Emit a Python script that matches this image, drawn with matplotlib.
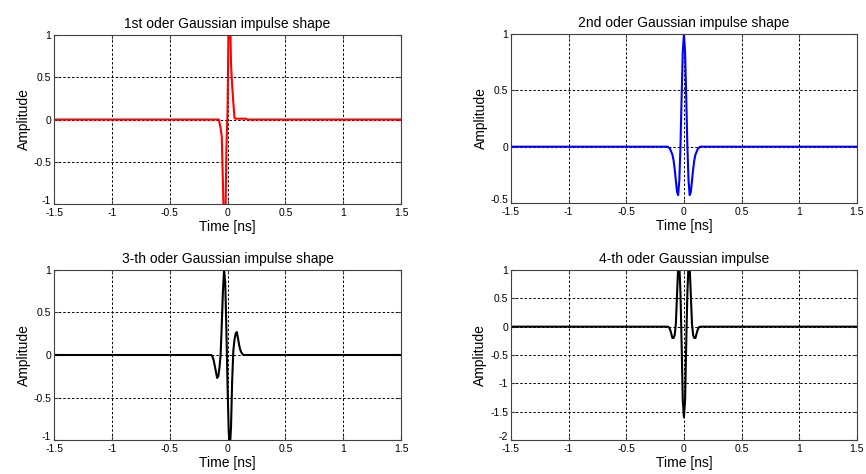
import numpy as np
import matplotlib
matplotlib.use("Agg")
import matplotlib.pyplot as plt
import matplotlib.transforms as mtransforms
from matplotlib.ticker import FormatStrFormatter

plt.rcParams['font.family'] = ['Liberation Sans', 'DejaVu Sans']

# 1st order pulse (values beyond +-1 are clipped by the axes)
t1 = [-1.5, -0.075, -0.06, -0.05, -0.04, -0.03, -0.02, -0.01, 0.0, 0.01, 0.02,
      0.03, 0.04, 0.05, 0.06, 0.07, 0.16, 0.17, 1.5]
y1 = [0, 0, -0.1, -0.2, -0.75, -1.3, -1.4, -0.35, 0.1, 1.3, 1.4,
      0.66, 0.4, 0.2, 0.02, 0.01, 0.01, 0, 0]

# 2nd order pulse
t2 = [-1.5, -0.14, -0.12, -0.1, -0.09, -0.08, -0.07, -0.06, -0.05, -0.04, -0.03,
      -0.02, -0.01, 0.0, 0.01, 0.02, 0.03, 0.04, 0.05, 0.06, 0.07, 0.08, 0.09,
      0.1, 0.12, 0.14, 1.5]
y2 = [0, 0, -0.02, -0.07, -0.12, -0.2, -0.3, -0.4, -0.43, -0.3, 0.0,
      0.44, 0.84, 1.0, 0.84, 0.44, 0.0, -0.3, -0.43, -0.4, -0.3, -0.2, -0.12,
      -0.07, -0.02, 0, 0]

# 3rd order pulse
t3 = [-1.5, -0.14, -0.13, -0.12, -0.11, -0.1, -0.09, -0.08, -0.07, -0.06, -0.05,
      -0.04, -0.03, -0.02, -0.01, 0.0, 0.01, 0.02, 0.03, 0.04, 0.05, 0.06, 0.07,
      0.08, 0.09, 0.1, 0.11, 0.12, 0.13, 0.14, 1.5]
y3 = [0, 0, -0.02, -0.06, -0.13, -0.2, -0.27, -0.25, -0.15, 0.0, 0.35,
      0.75, 1.0, 0.85, 0.3, -0.35, -0.9, -1.1, -0.85, -0.3, 0.05, 0.18, 0.25,
      0.27, 0.2, 0.12, 0.06, 0.03, 0.01, 0, 0]

# 4th order pulse
t4 = [-1.5, -0.14, -0.13, -0.12, -0.11, -0.1, -0.09, -0.08, -0.07, -0.06, -0.05,
      -0.04, -0.03, -0.02, -0.01, 0.0, 0.01, 0.02, 0.03, 0.04, 0.05, 0.06, 0.07,
      0.08, 0.09, 0.1, 0.11, 0.12, 0.13, 0.14, 1.5]
y4 = [0, 0, -0.01, -0.05, -0.12, -0.2, -0.2, -0.15, 0.05, 0.55, 1.05,
      1.1, 0.6, -0.3, -1.3, -1.6, -1.3, -0.3, 0.6, 1.1, 1.05, 0.55, 0.05,
      -0.15, -0.2, -0.2, -0.12, -0.05, -0.01, 0, 0]

titles = ["1st oder Gaussian impulse shape", "2nd oder Gaussian impulse shape",
          "3-th oder Gaussian impulse shape", "4-th oder Gaussian impulse"]
xticks = [-1.5, -1, -0.5, 0, 0.5, 1, 1.5]
yticks = [[-1, -0.5, 0, 0.5, 1], [-0.5, 0, 0.5, 1],
          [-1, -0.5, 0, 0.5, 1], [-2, -1.5, -1, -0.5, 0, 0.5, 1]]
colors = ["#ff0000", "#0000ff", "#000000", "#000000"]

fig = plt.figure(figsize=(8.66, 4.74), dpi=100)
boxes = [[0.0624, 0.5696, 0.4007, 0.3565], [0.590, 0.5717, 0.3995, 0.3565],
         [0.0624, 0.0717, 0.4007, 0.3587], [0.590, 0.0717, 0.3995, 0.3587]]
data = [(t1, y1), (t2, y2), (t3, y3), (t4, y4)]

for i, (t, y) in enumerate(data):
    ax = fig.add_axes(boxes[i])
    ax.plot(t, y, color=colors[i], lw=1.5)
    ax.set_xlim(-1.5, 1.5)
    ax.set_ylim(yticks[i][0], yticks[i][-1])
    ax.set_xticks(xticks)
    ax.set_yticks(yticks[i])
    ax.xaxis.set_major_formatter(FormatStrFormatter('%g'))
    ax.yaxis.set_major_formatter(FormatStrFormatter('%g'))
    ax.grid(True, color='black', linestyle=(0, (2.5, 2)), lw=0.7)
    ax.tick_params(direction='in', length=3, labelsize=7.5, pad=2,
                   top=True, right=True, color='#404040')
    ax.tick_params(axis='x', pad=3)
    for s in ax.spines.values():
        s.set_color('#404040')
        s.set_linewidth(0.8)
    # lowest y label sits right on the corner, lift it a little
    lab = ax.get_yticklabels()[0]
    lab.set_transform(lab.get_transform() +
                      mtransforms.ScaledTranslation(0, 3 / 72, fig.dpi_scale_trans))
    ax.set_title(titles[i], fontsize=10, pad=5)
    ax.set_xlabel("Time [ns]", fontsize=10, labelpad=1)
    ax.set_ylabel("Amplitude", fontsize=10, labelpad=2)

fig.savefig("out.png", dpi=100)
